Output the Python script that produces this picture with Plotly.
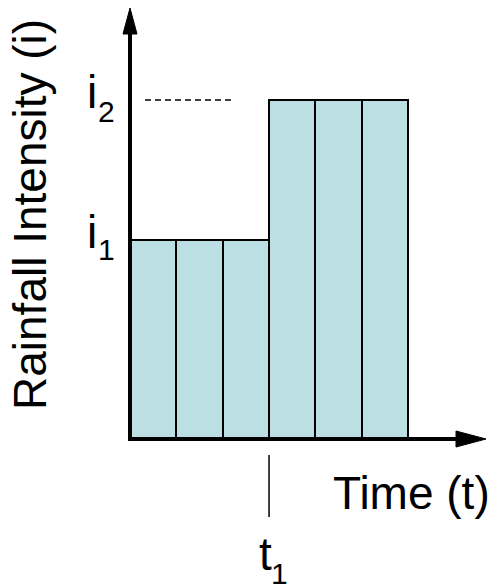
import plotly.graph_objects as go

# Rainfall hyetograph: constant intensity i1 up to t1, then i2
period_end = [1, 2, 3, 4, 5, 6]
intensity = [1.0, 1.0, 1.0, 1.7, 1.7, 1.7]
i_levels = [1.0, 1.7]
i_subs = ["1", "2"]
t1 = 3

FONT = "Liberation Sans, Arial, sans-serif"
BAR_COLOR = "#BBDFE2"

# pixels per data unit (bars ~46 px wide, i1 ~200 px tall)
px_x = 46.35
px_y = 199.4
PAD = 8  # page body margin
W, H = 497 - PAD, 586 - PAD
ox, oy = 130 - PAD, 439 - PAD  # origin inside the figure

fig = go.Figure()
fig.add_trace(go.Bar(x=period_end, y=intensity, width=1, offset=-1,
                     marker=dict(color=BAR_COLOR, line=dict(color="black", width=2)),
                     hoverinfo="skip", showlegend=False))

shapes = []
# x axis line + arrow
shapes.append(dict(type="line", xref="x", yref="y", xsizemode="pixel", xanchor=0,
                   x0=-2, x1=330, y0=0, y1=0, line=dict(color="black", width=4)))
shapes.append(dict(type="path", xref="x", yref="y", xsizemode="pixel", xanchor=0,
                   ysizemode="pixel", yanchor=0, path="M326,-8 L356,0 L326,8 Z",
                   fillcolor="black", line=dict(color="black", width=1)))
# y axis line + arrow
shapes.append(dict(type="line", xref="x", yref="y", ysizemode="pixel", yanchor=0,
                   x0=0, x1=0, y0=-2, y1=408, line=dict(color="black", width=4)))
shapes.append(dict(type="path", xref="x", yref="y", xsizemode="pixel", xanchor=0,
                   ysizemode="pixel", yanchor=0, path="M-7,405 L0,431 L7,405 Z",
                   fillcolor="black", line=dict(color="black", width=1)))
# dashed guide at i2
shapes.append(dict(type="line", xref="x", yref="y", xsizemode="pixel", xanchor=0,
                   x0=15, x1=103, y0=i_levels[1], y1=i_levels[1],
                   line=dict(color="black", width=1.5, dash="6px,4px")))
# t1 marker below the axis
shapes.append(dict(type="line", xref="x", yref="y", ysizemode="pixel", yanchor=0,
                   x0=t1, x1=t1, y0=-16, y1=-78, line=dict(color="black", width=1.5)))

main_font = dict(family=FONT, size=46, color="black")
sub_font = dict(family=FONT, size=30, color="black")

annotations = []
# i1 / i2 labels with hand-placed subscripts
for lvl, sub, dy in zip(i_levels, i_subs, [-10, -11]):
    annotations.append(dict(x=0, y=lvl, xref="x", yref="y", text="i", showarrow=False,
                            xanchor="center", yanchor="middle", xshift=-38, yshift=8,
                            font=main_font))
    annotations.append(dict(x=0, y=lvl, xref="x", yref="y", text=sub, showarrow=False,
                            xanchor="center", yanchor="middle", xshift=-24, yshift=dy,
                            font=sub_font))
# t1 label
annotations.append(dict(x=t1, y=0, xref="x", yref="y", text="t", showarrow=False,
                        xanchor="center", yanchor="middle", xshift=-4, yshift=-115,
                        font=main_font))
annotations.append(dict(x=t1, y=0, xref="x", yref="y", text="1", showarrow=False,
                        xanchor="center", yanchor="middle", xshift=10, yshift=-134,
                        font=sub_font))
annotations.append(dict(x=(411 - PAD) / W, y=1 - (493 - PAD) / H, xref="paper", yref="paper",
                        text="Time (t)", showarrow=False, xanchor="center", yanchor="middle",
                        font=main_font))
annotations.append(dict(x=(30 - PAD) / W, y=1 - (215 - PAD) / H, xref="paper", yref="paper",
                        text="Rainfall Intensity (i)", showarrow=False, textangle=-90,
                        xanchor="center", yanchor="middle", font=main_font))

fig.update_layout(
    width=W, height=H,
    margin=dict(l=0, r=0, t=0, b=0),
    paper_bgcolor="white", plot_bgcolor="white",
    bargap=0,
    xaxis=dict(visible=False, range=[-ox / px_x, (W - ox) / px_x], fixedrange=True),
    yaxis=dict(visible=False, range=[-(H - oy) / px_y, oy / px_y], fixedrange=True),
    shapes=shapes,
    annotations=annotations,
)

fig.write_html("out.html")
